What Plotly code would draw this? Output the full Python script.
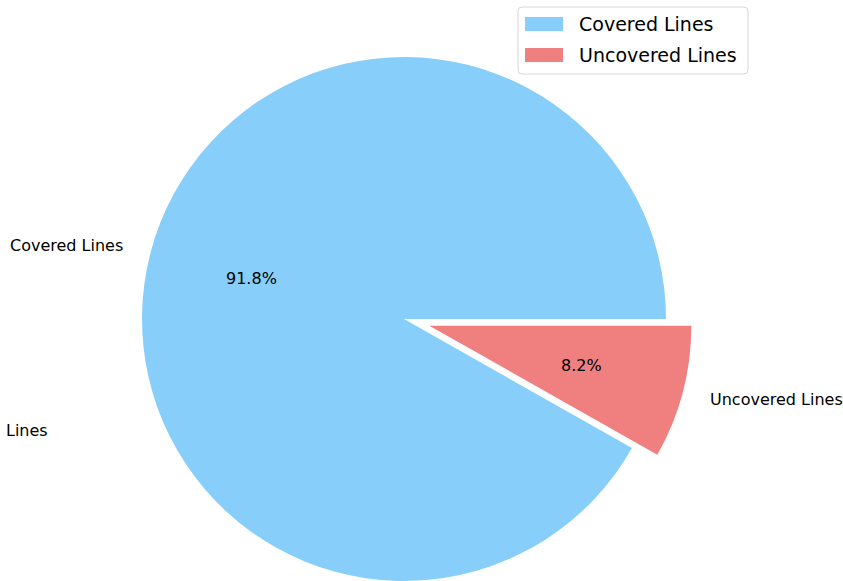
import math
import plotly.graph_objects as go

# ---- data ----
labels = ["Covered Lines", "Uncovered Lines"]
values = [91.8, 8.2]
colors = ["#87CEFA", "#F08080"]
explode = [0.0, 0.1]
stray_label = "Lines"

# ---- layout geometry (pixels) ----
W, H = 843, 640          # figure is taller than the window; bottom is cropped like the reference
CX, CY, R = 404, 319, 262  # pie centre (from top) and radius
LABEL_DIST, PCT_DIST = 1.1, 0.6
FONT = "DejaVu Sans, sans-serif"
TXT_SIZE = 16
LEG_SIZE = 19

total = sum(values)
max_pull = max(explode)
half = R * (1 + max_pull)
dom_x = [(CX - half) / W, (CX + half) / W]
dom_y = [(H - CY - half) / H, (H - CY + half) / H]

# matplotlib: first wedge starts at 3 o'clock and runs counterclockwise.
# plotly (counterclockwise): first slice ENDS at the rotation angle (clockwise from 12 o'clock).
rotation = 90 + (1 - values[0] / total) * 360

fig = go.Figure(
    go.Pie(
        labels=labels,
        values=values,
        marker=dict(colors=colors, line=dict(color="white", width=0)),
        pull=explode,
        sort=False,
        direction="counterclockwise",
        rotation=rotation,
        textinfo="none",
        hoverinfo="label+percent",
        domain=dict(x=dom_x, y=dom_y),
        showlegend=False,
    )
)

def px(x):
    return x / W

def py(y):
    return (H - y) / H

annotations = []
shapes = []
start = 0.0
for lab, val, ex in zip(labels, values, explode):
    frac = val / total
    mid = (start + frac / 2) * 2 * math.pi
    start += frac
    c, s = math.cos(mid), math.sin(mid)
    ox = CX + ex * R * c
    oy = CY - ex * R * s
    lx, ly = ox + LABEL_DIST * R * c, oy - LABEL_DIST * R * s
    annotations.append(dict(
        x=px(lx), y=py(ly), xref="paper", yref="paper", text=lab, showarrow=False,
        xanchor="right" if c < 0 else "left", yanchor="middle",
        font=dict(family=FONT, size=TXT_SIZE, color="#000000"),
    ))
    tx, ty = ox + PCT_DIST * R * c, oy - PCT_DIST * R * s
    annotations.append(dict(
        x=px(tx), y=py(ty), xref="paper", yref="paper", text=f"{frac*100:.1f}%", showarrow=False,
        xanchor="center", yanchor="middle",
        font=dict(family=FONT, size=TXT_SIZE, color="#000000"),
    ))

# stray clipped label at the left edge
annotations.append(dict(
    x=px(4), y=py(430), xref="paper", yref="paper", text=stray_label, showarrow=False,
    xanchor="left", yanchor="middle", font=dict(family=FONT, size=TXT_SIZE, color="#000000"),
))

# ---- legend (matplotlib style) ----
LX0, LY0, LX1, LY1 = 518, 7, 748, 74
shapes.append(dict(
    type="path", xref="paper", yref="paper",
    path=(f"M {px(LX0+4)},{py(LY0)} L {px(LX1-4)},{py(LY0)} Q {px(LX1)},{py(LY0)} {px(LX1)},{py(LY0+4)} "
          f"L {px(LX1)},{py(LY1-4)} Q {px(LX1)},{py(LY1)} {px(LX1-4)},{py(LY1)} "
          f"L {px(LX0+4)},{py(LY1)} Q {px(LX0)},{py(LY1)} {px(LX0)},{py(LY1-4)} "
          f"L {px(LX0)},{py(LY0+4)} Q {px(LX0)},{py(LY0)} {px(LX0+4)},{py(LY0)} Z"),
    line=dict(color="#d6d6d6", width=1), fillcolor="rgba(255,255,255,0.8)",
))
row_y = [24, 55]
for lab, col, yy in zip(labels, colors, row_y):
    shapes.append(dict(
        type="rect", xref="paper", yref="paper",
        x0=px(525), x1=px(563), y0=py(yy - 7), y1=py(yy + 7),
        fillcolor=col, line=dict(width=0),
    ))
    annotations.append(dict(
        x=px(577), y=py(yy), xref="paper", yref="paper", text=lab, showarrow=False,
        xanchor="left", yanchor="middle",
        font=dict(family=FONT, size=LEG_SIZE, color="#000000"),
    ))

fig.update_layout(
    width=W, height=H,
    margin=dict(l=0, r=0, t=0, b=0),
    paper_bgcolor="white", plot_bgcolor="white",
    annotations=annotations, shapes=shapes,
    showlegend=False,
)

fig.write_html(
    "out.html",
    config=dict(displayModeBar=False),
    post_script="document.body.style.margin='0';document.body.style.overflow='hidden';",
)
